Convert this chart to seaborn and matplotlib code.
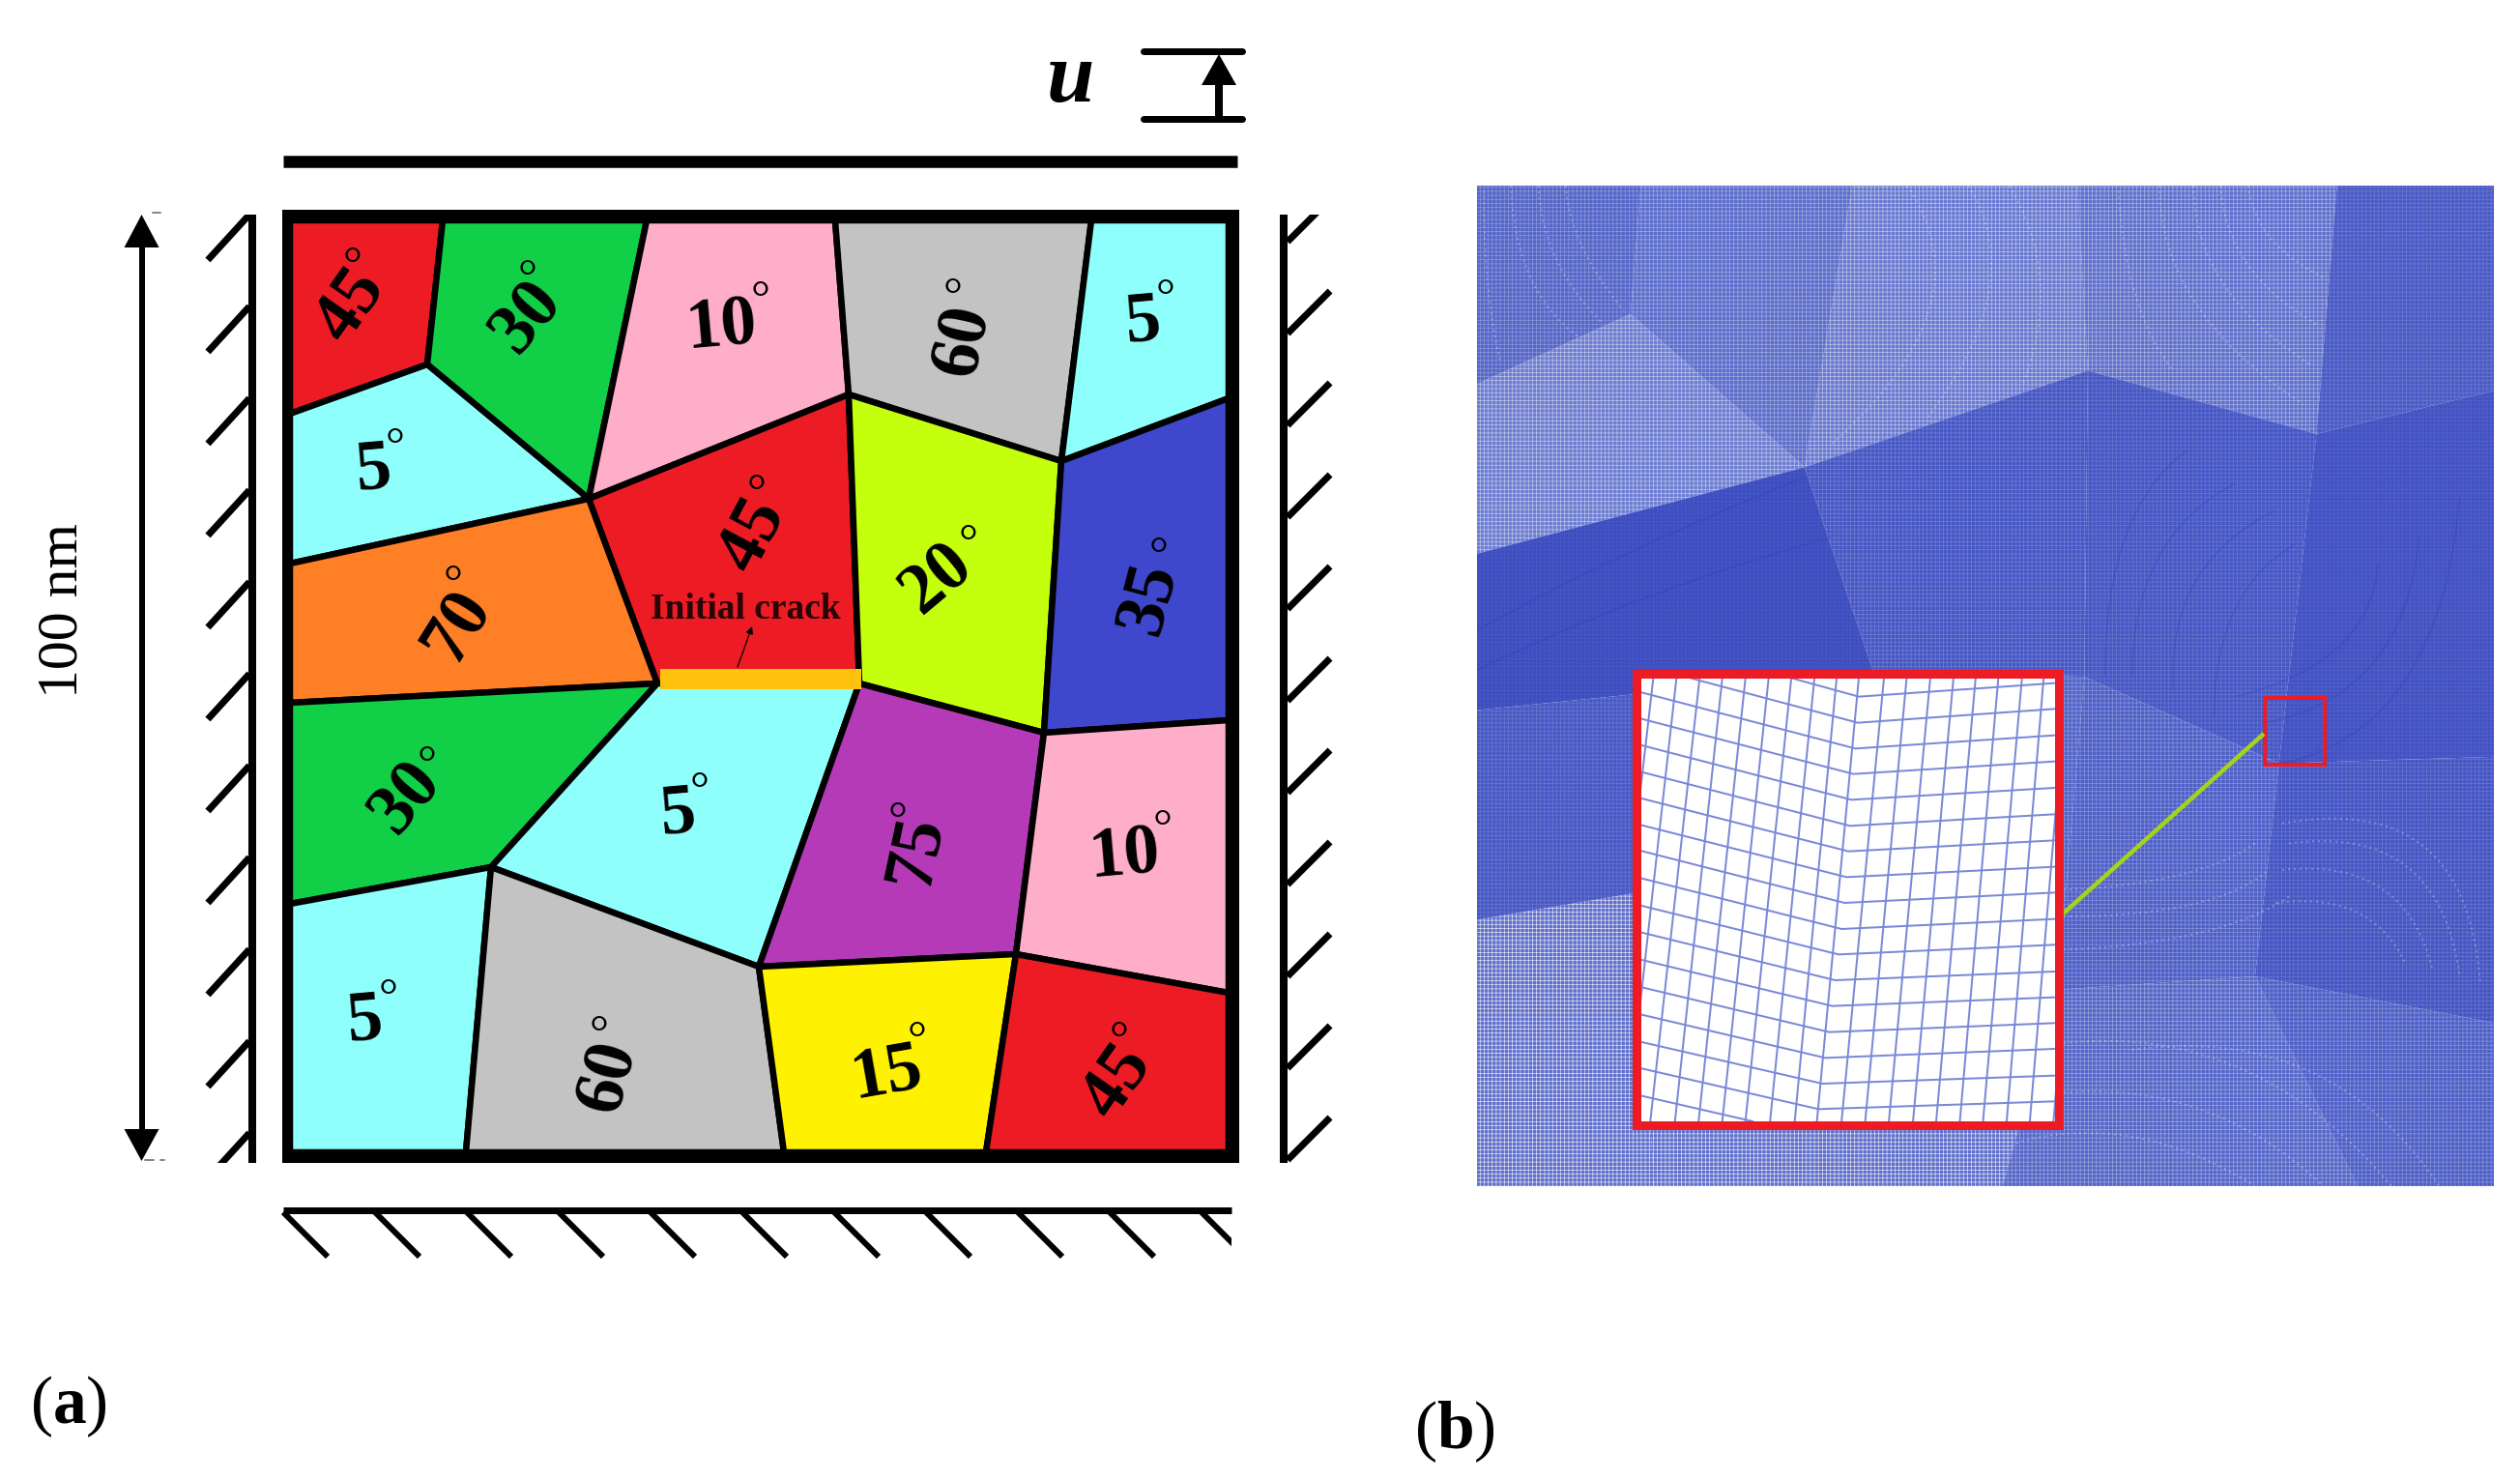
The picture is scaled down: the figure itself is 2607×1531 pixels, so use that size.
# Polycrystal model (a) and its finite element mesh (b)
import pandas as pd
import seaborn as sns
import matplotlib.pyplot as plt
from matplotlib.patches import Rectangle, PathPatch
from matplotlib.path import Path

W, H = 2607, 1531

# --- panel (a): grain junctions, in image pixels
pts = {
    'c1': (300, 228), 'c2': (1271, 228), 'c3': (1271, 1192), 'c4': (300, 1192),
    't1': (458, 228), 't2': (669, 228), 't3': (864, 228), 't4': (1129, 228),
    'l1': (300, 428), 'l2': (300, 583), 'l3': (300, 727), 'l4': (300, 935),
    'r1': (1271, 412), 'r2': (1271, 745), 'r3': (1271, 1027),
    'b1': (482, 1192), 'b2': (811, 1192), 'b3': (1020, 1192),
    'j1': (442, 377), 'j2': (609, 516), 'j3': (878, 408), 'j4': (1098, 477),
    'j5': (680, 707), 'j6': (889, 707), 'j7': (1080, 758), 'j8': (508, 897),
    'j9': (785, 1000), 'j10': (1051, 987),
}
grain_pts = [
    ['c1', 't1', 'j1', 'l1'], ['t1', 't2', 'j2', 'j1'], ['t2', 't3', 'j3', 'j2'],
    ['t3', 't4', 'j4', 'j3'], ['t4', 'c2', 'r1', 'j4'], ['l1', 'j1', 'j2', 'l2'],
    ['j2', 'j3', 'j6', 'j5'], ['j3', 'j4', 'j7', 'j6'], ['j4', 'r1', 'r2', 'j7'],
    ['l2', 'j2', 'j5', 'l3'], ['l3', 'j5', 'j8', 'l4'], ['j5', 'j6', 'j9', 'j8'],
    ['j6', 'j7', 'j10', 'j9'], ['j7', 'r2', 'r3', 'j10'], ['l4', 'j8', 'b1', 'c4'],
    ['j8', 'j9', 'b2', 'b1'], ['j9', 'j10', 'b3', 'b2'], ['j10', 'r3', 'c3', 'b3'],
]
grain_colors = [
    '#ED1C24', '#12CF48', '#FFAEC9', '#C3C3C3', '#8FFFFB', '#8FFFFB',
    '#ED1C24', '#C4FF0E', '#3F48CC', '#FF7F27', '#12CF48', '#8FFFFB',
    '#B53AB8', '#FFAEC9', '#8FFFFB', '#C3C3C3', '#FFF200', '#ED1C24',
]
angles = ['45', '30', '10', '60', '5', '5', '45', '20', '35', '70', '30', '5', '75', '10', '5', '60', '15', '45']
label_x = [363, 546, 746, 997, 1183, 387, 779, 970, 1190, 475, 421, 702, 948, 1163, 378, 630, 917, 1156]
label_y = [316, 329, 339, 352, 334, 487, 554, 599, 620, 648, 826, 843, 880, 886, 1057, 1114, 1111, 1119]
label_rot = [55, 50, 5, 78, 5, 5, 62, 40, 75, 58, 50, 5, 78, 5, 5, 75, 10, 55]
degree_x = [365, 546, 787, 986, 1206, 409, 783, 1002, 1199, 469, 442, 724, 929, 1203, 402, 620, 949, 1158]
degree_y = [264, 277, 299, 296, 297, 451, 499, 551, 564, 593, 780, 807, 838, 846, 1021, 1059, 1065, 1065]

crack_x, crack_y = [683, 891], [692, 713]
top_bar_x, top_bar_y = [293, 1280], [167, 167]
u_lines_y = [52.5, 122.5]
u_lines_x = [1183, 1285]
u_arrow_x, u_arrow_tip, u_arrow_base, u_arrow_end = 1261, 56, 88, 122
dim_x, dim_top, dim_top_base, dim_bot, dim_bot_base = 146.5, 222, 256, 1201, 1168

left_hatch_y = [222, 317, 412, 507, 602, 697, 792, 887, 982, 1077, 1172]
right_hatch_y = [250, 345, 440, 535, 630, 725, 820, 915, 1010, 1105, 1200]
bottom_hatch_x = [293, 388, 483, 578, 673, 768, 863, 958, 1053, 1148, 1243]

# --- panel (b): mesh grains, in zoomed panel units
mesh_polys = [
    [(40, 32), (280, 32), (265, 225), (40, 330)],
    [(280, 32), (590, 32), (520, 455), (265, 225)],
    [(590, 32), (920, 32), (935, 310), (520, 455)],
    [(920, 32), (1300, 32), (1270, 405), (935, 310)],
    [(1300, 32), (1530, 32), (1530, 340), (1270, 405)],
    [(40, 330), (265, 225), (520, 455), (40, 585)],
    [(520, 455), (935, 310), (930, 770), (620, 760)],
    [(935, 310), (1270, 405), (1215, 900), (930, 770)],
    [(1270, 405), (1530, 340), (1530, 890), (1215, 900)],
    [(40, 585), (520, 455), (620, 760), (40, 820)],
    [(40, 820), (620, 760), (270, 1095), (40, 1135)],
    [(620, 760), (930, 770), (890, 1240), (270, 1095)],
    [(930, 770), (1215, 900), (1180, 1220), (890, 1240)],
    [(1215, 900), (1530, 890), (1530, 1290), (1180, 1220)],
    [(40, 1135), (270, 1095), (300, 1535), (40, 1535)],
    [(270, 1095), (890, 1240), (810, 1535), (300, 1535)],
    [(890, 1240), (1180, 1220), (1330, 1535), (810, 1535)],
    [(1180, 1220), (1530, 1290), (1530, 1535), (1330, 1535)],
]
mesh_tones = [
    '#5566C8', '#5C6DCB', '#6878D0', '#5F70CC', '#4A5BC6', '#6C7CD1',
    '#4657C5', '#4657C5', '#4252C3', '#3D4EC0', '#4858C5', '#5364C8',
    '#4E5FC7', '#4556C4', '#5F6FCB', '#5F6FCB', '#5566C8', '#4E5FC7',
]
mesh_density = [0.35, 0.45, 0.6, 0.5, 0.2, 0.6, 0.25, 0.2, 0.1, 0.07, 0.2, 0.35, 0.35, 0.2, 0.85, 0.85, 0.45, 0.35]

# element rows that show up as curved streaks (start, bend, end)
light_arcs = [
    [(50, 40), (50, 200), (75, 300)], [(90, 32), (95, 190), (190, 260)],
    [(130, 32), (135, 150), (225, 240)], [(170, 32), (175, 120), (255, 220)],
    [(980, 40), (990, 220), (1060, 310)], [(1040, 32), (1040, 220), (1250, 360)],
    [(1090, 32), (1090, 190), (1260, 300)], [(1130, 32), (1135, 160), (1270, 240)],
    [(1170, 32), (1180, 120), (1280, 170)],
    [(670, 32), (790, 210), (560, 420)], [(760, 32), (850, 180), (700, 380)],
    [(820, 32), (900, 170), (840, 330)],
    [(1220, 990), (1490, 940), (1510, 1230)], [(1230, 1020), (1450, 990), (1480, 1220)],
    [(1220, 1060), (1400, 1040), (1440, 1210)], [(1210, 1110), (1350, 1090), (1400, 1200)],
    [(1000, 1330), (1290, 1290), (1450, 1535)], [(900, 1320), (1180, 1290), (1380, 1535)],
    [(850, 1400), (1100, 1360), (1280, 1535)], [(830, 1470), (1000, 1420), (1180, 1535)],
    [(900, 1090), (1100, 1080), (1180, 1020)], [(900, 1130), (1120, 1130), (1200, 1060)],
    [(900, 1180), (1130, 1170), (1230, 1100)],
]
dark_arcs = [
    [(960, 770), (960, 520), (1080, 430)], [(1000, 770), (1000, 560), (1150, 480)],
    [(1060, 790), (1050, 600), (1210, 520)], [(1120, 830), (1120, 640), (1240, 570)],
    [(1220, 900), (1450, 850), (1480, 500)], [(1190, 840), (1400, 800), (1420, 560)],
    [(1150, 800), (1350, 750), (1360, 600)],
    [(40, 700), (250, 580), (520, 470)], [(40, 760), (280, 640), (560, 560)],
]

# --- inset: kinked element lines, in inset units
h_start_x = [400, 195] + [92] * 15
h_start_y = [65, 65, 108, 190, 272, 355, 437, 520, 600, 685, 770, 853, 938, 1023, 1108, 1193, 1275]
h_kink_x = [535, 533, 528, 524, 520, 517, 514, 510, 506, 500, 494, 487, 481, 475, 467, 461, 453]
h_kink_y = [122, 203, 283, 362, 442, 523, 602, 682, 762, 843, 922, 1002, 1082, 1163, 1243, 1323, 1402]
h_end_y = [80, 160, 242, 323, 405, 487, 568, 650, 730, 812, 892, 975, 1055, 1135, 1215, 1298, 1378]
last_line_x = [92, 320]
last_line_y = [1360, 1440]
v_top_x = [118, 165, 212, 258, 305, 352, 398, 445, 490, 535, 586, 632, 680, 727, 772, 818, 866, 910, 957, 1005]
v_bot_x = [15, 65, 112, 162, 210, 258, 305, 355, 405, 450, 500, 548, 596, 645, 692, 740, 787, 835, 882, 930]
zoom_box_x, zoom_box_y = [2343, 2405], [722, 791]
leader_x, leader_y = [2130, 2342], [949, 759]

sns.set_theme(style='white')
plt.rcParams['font.family'] = ['Liberation Serif']
plt.rcParams['mathtext.fontset'] = 'custom'
plt.rcParams['mathtext.bf'] = 'Liberation Serif:bold'
plt.rcParams['mathtext.rm'] = 'Liberation Serif'
plt.rcParams['hatch.linewidth'] = 0.45

px = 0.72  # line widths are read in pixels
fig = plt.figure(figsize=(W / 100, H / 100), dpi=100, facecolor='white')


def axes_at(x0, y0, x1, y1):
    return fig.add_axes([x0 / W, 1 - y1 / H, (x1 - x0) / W, (y1 - y0) / H])


def draw_arcs(axis, arcs, **style):
    for p0, c, p1 in arcs:
        path = Path([p0, c, p1], [Path.MOVETO, Path.CURVE3, Path.CURVE3])
        axis.add_patch(PathPatch(path, facecolor='none', **style))


# mesh panel
mesh_ax = axes_at(1528, 192, 2580, 1227)
for poly, tone, density in zip(mesh_polys, mesh_tones, mesh_density):
    xs, ys = zip(*poly)
    mesh_ax.fill(xs, ys, facecolor=tone, edgecolor=(1, 1, 1, density), hatch='++++', linewidth=0)
draw_arcs(mesh_ax, light_arcs, edgecolor=(1, 1, 1, 0.28), lw=2 * px, linestyle=(0, (1, 2)))
draw_arcs(mesh_ax, dark_arcs, edgecolor=(0.15, 0.22, 0.68, 0.3), lw=1.3 * px)
mesh_ax.set_xlim(40, 1530)
mesh_ax.set_ylim(1535, 32)
mesh_ax.axis('off')

# everything else sits on a transparent pixel axes
ax = axes_at(0, 0, W, H)
ax.patch.set_alpha(0)
ax.set_xlim(0, W)
ax.set_ylim(H, 0)
ax.axis('off')

# frame and grains
ax.add_patch(Rectangle((292, 217), 990, 986, facecolor='black', edgecolor='none'))
for names, color in zip(grain_pts, grain_colors):
    xs = [pts[n][0] for n in names]
    ys = [pts[n][1] for n in names]
    ax.fill(xs, ys, facecolor=color, edgecolor='black', linewidth=6.5 * px, joinstyle='round')
ax.plot([300, 1271, 1271, 300, 300], [228, 228, 1192, 1192, 228], color='black', lw=4 * px)
ax.add_patch(Rectangle((crack_x[0], crack_y[0]), crack_x[1] - crack_x[0], crack_y[1] - crack_y[0],
                       facecolor='#FFC20E', edgecolor='none'))

grains = pd.DataFrame({'angle': angles, 'x': label_x, 'y': label_y, 'rot': label_rot,
                       'dx': degree_x, 'dy': degree_y})
for row in grains.itertuples():
    ax.text(row.x, row.y, row.angle, fontsize=53, fontweight='bold', color='black', rotation=row.rot,
            rotation_mode='anchor', ha='center', va='center')
    ax.text(row.dx, row.dy + 25, '\u00b0', fontsize=36, color='black', ha='center', va='baseline')

ax.text(771, 631, 'Initial crack', fontsize=27, fontweight='bold', color='#2A0508', ha='center', va='center')
ax.annotate('', xy=(778, 648), xytext=(763, 690),
            arrowprops=dict(arrowstyle='-|>', color='black', lw=0.9, mutation_scale=11, shrinkA=0, shrinkB=0))

# loading bar and displacement symbol
ax.plot(top_bar_x, top_bar_y, color='black', lw=12.5 * px, solid_capstyle='butt')
ax.text(1107, 84, 'u', fontsize=64, fontweight='bold', style='italic', color='black', ha='center', va='center')
for y in u_lines_y:
    ax.plot(u_lines_x, [y, y], color='black', lw=7 * px, solid_capstyle='round')
ax.plot([u_arrow_x, u_arrow_x], [u_arrow_base, u_arrow_end], color='black', lw=8 * px, solid_capstyle='butt')
ax.fill([u_arrow_x - 18, u_arrow_x + 18, u_arrow_x], [u_arrow_base, u_arrow_base, u_arrow_tip], color='black', lw=0)

# 100 nm dimension
ax.plot([dim_x, dim_x], [dim_top_base, dim_bot_base], color='black', lw=6 * px, solid_capstyle='butt')
ax.fill([dim_x - 18, dim_x + 18, dim_x], [dim_top_base, dim_top_base, dim_top], color='black', lw=0)
ax.fill([dim_x - 18, dim_x + 18, dim_x], [dim_bot_base, dim_bot_base, dim_bot], color='black', lw=0)
ax.text(65, 632, '100 nm', fontsize=43, color='black', rotation=90, ha='center', va='center')
ax.plot([158, 166], [220, 220], color='#888888', lw=2 * px)
ax.plot([150, 159], [1200, 1200], color='#888888', lw=2 * px)
ax.plot([166, 170], [1200, 1200], color='#888888', lw=2 * px)

# walls
ax.plot([261, 261], [222, 1203], color='black', lw=8 * px, solid_capstyle='butt')
ax.plot([1328, 1328], [222, 1203], color='black', lw=8 * px, solid_capstyle='butt')
ax.plot([293, 1274], [1252, 1252], color='black', lw=7 * px, solid_capstyle='butt')
clip_left = Rectangle((150, 222), 120, 981, transform=ax.transData)
for y in left_hatch_y:
    ln, = ax.plot([258, 215], [y, y + 47], color='black', lw=7 * px, solid_capstyle='butt')
    ln.set_clip_path(clip_left)
clip_right = Rectangle((1320, 222), 120, 981, transform=ax.transData)
for y in right_hatch_y:
    ln, = ax.plot([1332, 1376], [y, y - 44], color='black', lw=7 * px, solid_capstyle='butt')
    ln.set_clip_path(clip_right)
clip_bottom = Rectangle((285, 1250), 989, 70, transform=ax.transData)
for x in bottom_hatch_x:
    ln, = ax.plot([x, x + 46], [1254, 1300], color='black', lw=6 * px, solid_capstyle='butt')
    ln.set_clip_path(clip_bottom)

# zoom marker on the mesh
ax.add_patch(Rectangle((zoom_box_x[0], zoom_box_y[0]), zoom_box_x[1] - zoom_box_x[0], zoom_box_y[1] - zoom_box_y[0],
                       facecolor='none', edgecolor='#ED1C24', lw=4 * px))
ax.plot(leader_x, leader_y, color='#A4D41A', lw=4.5 * px, solid_capstyle='butt')

ax.text(71, 1455, '(' + r'$\mathbf{a}$' + ')', fontsize=50, color='black', ha='center', va='center')
ax.text(1505, 1481, '(' + r'$\mathbf{b}$' + ')', fontsize=50, color='black', ha='center', va='center')

# inset with the element lines
inset = axes_at(1692.5, 697, 2130, 1164)
rows = []
n = 0
for sx, sy, kx, ky, ey in zip(h_start_x, h_start_y, h_kink_x, h_kink_y, h_end_y):
    rows += [(n, sx, sy), (n, kx, ky), (n, 932, ey)]
    n += 1
rows += [(n, last_line_x[0], last_line_y[0]), (n, last_line_x[1], last_line_y[1])]
n += 1
for tx, bx in zip(v_top_x, v_bot_x):
    rows += [(n, tx, 65), (n, bx, 1440)]
    n += 1
lines = pd.DataFrame(rows, columns=['line', 'x', 'y'])
sns.lineplot(data=lines, x='x', y='y', units='line', estimator=None, sort=False,
             color='#7B88D8', linewidth=2 * px, legend=False, ax=inset)
inset.set_xlim(83, 941)
inset.set_ylim(1452, 51)
inset.set_xticks([])
inset.set_yticks([])
inset.set_xlabel('')
inset.set_ylabel('')
inset.set_facecolor('white')
for s in inset.spines.values():
    s.set_visible(True)
    s.set_color('#ED1C24')
    s.set_linewidth(9 * px)

fig.savefig('out.png', dpi=100)
